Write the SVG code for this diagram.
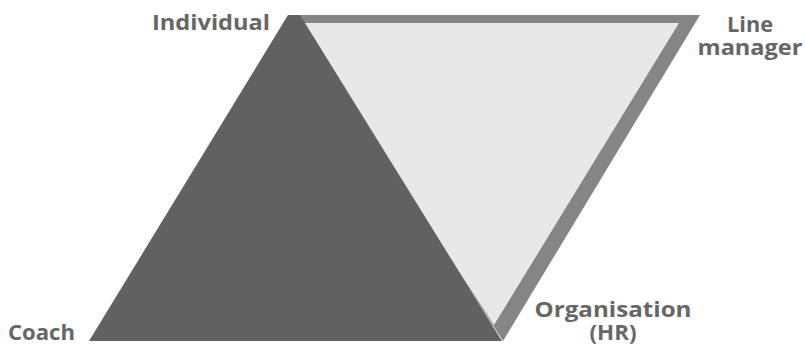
<svg xmlns="http://www.w3.org/2000/svg" width="805" height="345" viewBox="0 0 805 345">
<style>
.lbl{font-family:"Open Sans","Liberation Sans",sans-serif;font-weight:bold;font-size:21px;fill:#666666}
</style>
<rect width="805" height="345" fill="#ffffff"/>
<g id="shapes">
<polygon id="frame" points="295,15 700,15 503,341" fill="#858585"/>
<polygon id="light" points="296,23 679,23 494,325" fill="#e8e8e8"/>
<polygon id="dark" points="288,15 300,15 502,341 89,341" fill="#616161"/>
</g>
<g id="individual"><text class="lbl" x="152" y="30" textLength="118" lengthAdjust="spacingAndGlyphs">Individual</text></g>
<g id="line-manager">
<text class="lbl" text-anchor="middle"><tspan x="750" y="32" textLength="46" lengthAdjust="spacingAndGlyphs">Line</tspan><tspan x="750" y="55" textLength="105" lengthAdjust="spacingAndGlyphs">manager</tspan></text>
</g>
<g id="organisation">
<text class="lbl" text-anchor="middle"><tspan x="613" y="317" textLength="157" lengthAdjust="spacingAndGlyphs">Organisation</tspan><tspan x="613" y="340" textLength="47" lengthAdjust="spacingAndGlyphs">(HR)</tspan></text>
</g>
<g id="coach"><text class="lbl" x="8" y="340" textLength="67" lengthAdjust="spacingAndGlyphs">Coach</text></g>
</svg>
